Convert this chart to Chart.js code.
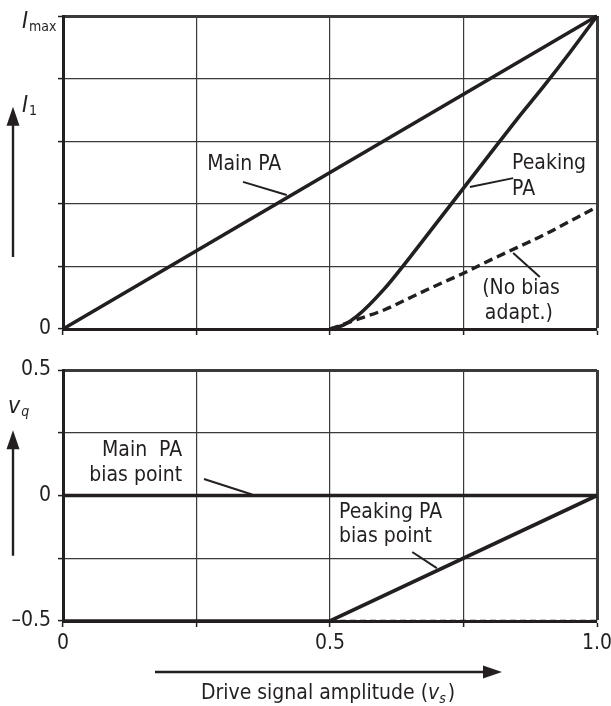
<!DOCTYPE html>
<html>
<head>
<meta charset="utf-8">
<script src="https://cdn.jsdelivr.net/npm/chart.js@4.4.1/dist/chart.umd.min.js"></script>
<style>
  html, body { margin: 0; padding: 0; background: #fff; }
  #wrap { position: relative; width: 611px; height: 706px; overflow: hidden; }
  canvas { position: absolute; left: 0; }
  #cTop { top: 0; }
  #cBot { top: 355px; }
</style>
</head>
<body>
<div id="wrap">
  <canvas id="cTop" width="611" height="345"></canvas>
  <canvas id="cBot" width="611" height="351"></canvas>
</div>
<script>
// Drive amplitude (normalised) and the fundamental currents I1 / Imax
const mainDrive = [0, 1];
const mainCurrent = [0, 1];
const peakDrive = [0.5, 0.525, 0.55, 0.6, 0.65, 0.7, 0.75, 0.8, 0.85, 0.9, 0.95, 1.0];
const peakCurrent = [0, 0.012, 0.04, 0.125, 0.23, 0.34, 0.45, 0.56, 0.67, 0.775, 0.885, 1.0];
const noBiasDrive = [0.5, 0.55, 0.6, 0.65, 0.7, 0.75, 0.8, 0.85, 0.9, 0.95, 1.0];
const noBiasCurrent = [0, 0.03, 0.06, 0.1, 0.14, 0.178, 0.22, 0.26, 0.3, 0.345, 0.39];

// Bias points v_q versus drive
const mainBiasDrive = [0, 1];
const mainBias = [0, 0];
const peakBiasDrive = [0, 0.5, 1];
const peakBias = [-0.5, -0.5, 0];
const fixedBiasDrive = [0.5, 1];
const fixedBias = [-0.5, -0.5];

// Tick labels
const xTickLabels = { 0: '0', 0.5: '0.5', 1: '1.0' };
const topTickLabels = { 0: '0' };
const botTickLabels = { 0.5: '0.5', 0: '0', '-0.5': '\u20130.5' };

const INK = '#231f20';
const GRID = '#3a3a3a';
const FONT = '"Liberation Sans Narrow", "Arial Narrow", "DejaVu Sans Condensed", "Liberation Sans", sans-serif';
const FS = 21;

const pts = (xs, ys) => xs.map((x, i) => ({ x, y: ys[i] }));

function series(xs, ys, extra) {
  return Object.assign({
    data: pts(xs, ys), borderColor: INK, borderWidth: 3.6, pointRadius: 0,
    fill: false, tension: 0, clip: 4, borderCapStyle: 'butt'
  }, extra || {});
}

function edgeWidth(edgeValue) {
  return ctx => (ctx.tick && Math.abs(ctx.tick.value - edgeValue) < 1e-9) ? 3 : 1.2;
}

function text(ctx, str, x, y, align, size, style) {
  ctx.font = (style || '') + ' ' + (size || FS) + 'px ' + FONT;
  ctx.textAlign = align || 'left';
  ctx.textBaseline = 'middle';
  ctx.fillStyle = INK;
  ctx.fillText(str, x, y);
}

function leader(ctx, x1, y1, x2, y2) {
  ctx.beginPath();
  ctx.moveTo(x1, y1); ctx.lineTo(x2, y2);
  ctx.lineWidth = 2; ctx.strokeStyle = INK; ctx.stroke();
}

function arrowUp(ctx, x, yTail, yTip) {
  ctx.beginPath(); ctx.moveTo(x, yTail); ctx.lineTo(x, yTip + 14);
  ctx.lineWidth = 2.4; ctx.strokeStyle = INK; ctx.stroke();
  ctx.beginPath(); ctx.moveTo(x, yTip); ctx.lineTo(x - 6.5, yTip + 19); ctx.lineTo(x + 6.5, yTip + 19);
  ctx.closePath(); ctx.fillStyle = INK; ctx.fill();
}

function arrowRight(ctx, xTail, xTip, y) {
  ctx.beginPath(); ctx.moveTo(xTail, y); ctx.lineTo(xTip - 14, y);
  ctx.lineWidth = 2.4; ctx.strokeStyle = INK; ctx.stroke();
  ctx.beginPath(); ctx.moveTo(xTip, y); ctx.lineTo(xTip - 19, y - 6.5); ctx.lineTo(xTip - 19, y + 6.5);
  ctx.closePath(); ctx.fillStyle = INK; ctx.fill();
}

// Symbol with italic letter and upright subscript
function symbol(ctx, main, sub, x, y, size, subSize, italicSub) {
  ctx.font = 'italic ' + size + 'px ' + FONT;
  ctx.textAlign = 'left'; ctx.textBaseline = 'alphabetic'; ctx.fillStyle = INK;
  ctx.fillText(main, x, y);
  const w = ctx.measureText(main).width;
  ctx.font = (italicSub ? 'italic ' : '') + subSize + 'px ' + FONT;
  ctx.fillText(sub, x + w + 1, y + subSize * 0.22);
}

const topAnnotations = {
  id: 'topAnnotations',
  afterDraw(chart) {
    const { ctx, scales: { x, y } } = chart;
    const P = (vx, vy) => [x.getPixelForValue(vx), y.getPixelForValue(vy)];
    ctx.save();
    // y-axis symbols and direction arrow
    symbol(ctx, 'I', 'max', 22, y.getPixelForValue(1) + 12, 23, 14, false);
    symbol(ctx, 'I', '1', 22, y.getPixelForValue(0.72) + 8, 23, 14, false);
    arrowUp(ctx, 13, y.getPixelForValue(0.23), y.getPixelForValue(0.71));

    let a = P(0.27, 0.524); text(ctx, 'Main PA', a[0], a[1]);
    a = P(0.337, 0.47); let b = P(0.419, 0.428); leader(ctx, a[0], a[1], b[0], b[1]);

    a = P(0.841, 0.53); text(ctx, 'Peaking', a[0], a[1]);
    a = P(0.841, 0.444); text(ctx, 'PA', a[0], a[1]);
    a = P(0.762, 0.454); b = P(0.843, 0.482); leader(ctx, a[0], a[1], b[0], b[1]);

    a = P(0.785, 0.128); text(ctx, '(No bias', a[0], a[1]);
    a = P(0.79, 0.048); text(ctx, 'adapt.)', a[0], a[1]);
    a = P(0.843, 0.243); b = P(0.893, 0.166); leader(ctx, a[0], a[1], b[0], b[1]);
    ctx.restore();
  }
};

const botAnnotations = {
  id: 'botAnnotations',
  afterDraw(chart) {
    const { ctx, scales: { x, y } } = chart;
    const P = (vx, vy) => [x.getPixelForValue(vx), y.getPixelForValue(vy)];
    ctx.save();
    symbol(ctx, 'v', 'q', 8, y.getPixelForValue(0.33), 23, 14, true);
    arrowUp(ctx, 13, y.getPixelForValue(-0.24), y.getPixelForValue(0.26));

    let a = P(0.223, 0.181); text(ctx, 'Main  PA', a[0], a[1], 'right');
    a = P(0.223, 0.078); text(ctx, 'bias point', a[0], a[1], 'right');
    a = P(0.264, 0.066); let b = P(0.354, 0.004); leader(ctx, a[0], a[1], b[0], b[1]);

    a = P(0.517, -0.068); text(ctx, 'Peaking PA', a[0], a[1]);
    a = P(0.517, -0.165); text(ctx, 'bias point', a[0], a[1]);
    a = P(0.654, -0.225); b = P(0.7, -0.289); leader(ctx, a[0], a[1], b[0], b[1]);

    // horizontal axis arrow and title
    const yArrow = chart.chartArea.bottom + 51;
    arrowRight(ctx, 155, 502, yArrow);
    const base = chart.chartArea.bottom + 78;
    ctx.font = FS + 'px ' + FONT;
    const t1 = 'Drive signal amplitude (';
    const w1 = ctx.measureText(t1).width;
    ctx.font = 'italic ' + FS + 'px ' + FONT;
    const wv = ctx.measureText('v').width;
    ctx.font = '14px ' + FONT;
    const ws = ctx.measureText('s').width;
    ctx.font = FS + 'px ' + FONT;
    const wp = ctx.measureText(')').width;
    let sx = 328 - (w1 + wv + ws + wp + 2) / 2;
    ctx.textAlign = 'left'; ctx.textBaseline = 'alphabetic'; ctx.fillStyle = INK;
    ctx.fillText(t1, sx, base); sx += w1;
    ctx.font = 'italic ' + FS + 'px ' + FONT; ctx.fillText('v', sx, base); sx += wv;
    ctx.font = 'italic 14px ' + FONT; ctx.fillText('s', sx, base + 4); sx += ws + 2;
    ctx.font = FS + 'px ' + FONT; ctx.fillText(')', sx, base);
    ctx.restore();
  }
};

function xScale(showLabels, height) {
  return {
    type: 'linear', min: 0, max: 1,
    ticks: {
      stepSize: 0.25, autoSkip: false, maxRotation: 0, display: showLabels, padding: 4,
      color: INK, font: { family: FONT, size: FS },
      callback: v => (xTickLabels[v] !== undefined ? xTickLabels[v] : '')
    },
    grid: { color: GRID, lineWidth: edgeWidth(1), tickLength: 6, tickColor: INK, tickWidth: 1.5 },
    border: { color: INK, width: 3 },
    afterFit: s => { s.height = height; s.paddingLeft = 0; s.paddingRight = 0; }
  };
}

function yScale(min, max, step, labels) {
  return {
    type: 'linear', min, max,
    ticks: {
      stepSize: step, autoSkip: false, padding: 7, color: INK,
      font: { family: FONT, size: FS },
      callback: v => { const k = String(Math.round(v * 100) / 100); return labels[k] !== undefined ? labels[k] : ''; }
    },
    grid: { color: GRID, lineWidth: edgeWidth(max), tickLength: 5, tickColor: INK, tickWidth: 1.5 },
    border: { color: INK, width: 3 },
    afterFit: s => { s.width = 63; s.paddingTop = 0; s.paddingBottom = 0; }
  };
}

const common = {
  responsive: false, animation: false, events: [],
  plugins: { legend: { display: false }, tooltip: { enabled: false } }
};

new Chart(document.getElementById('cTop'), {
  type: 'line',
  data: {
    datasets: [
      series(mainDrive, mainCurrent),
      series(peakDrive, peakCurrent, { cubicInterpolationMode: 'monotone' }),
      series(noBiasDrive, noBiasCurrent, { borderDash: [9, 5], borderWidth: 3.4, cubicInterpolationMode: 'monotone' })
    ]
  },
  options: Object.assign({}, common, {
    layout: { padding: { top: 16, right: 14, left: 0, bottom: 0 } },
    scales: { x: xScale(false, 16), y: yScale(0, 1, 0.2, topTickLabels) }
  }),
  plugins: [topAnnotations]
});

new Chart(document.getElementById('cBot'), {
  type: 'line',
  data: {
    datasets: [
      series(mainBiasDrive, mainBias),
      series(peakBiasDrive, peakBias),
      series(fixedBiasDrive, fixedBias, { borderDash: [6, 4], borderWidth: 2.4 })
    ]
  },
  options: Object.assign({}, common, {
    layout: { padding: { top: 15, right: 14, left: 0, bottom: 45 } },
    scales: { x: xScale(true, 40), y: yScale(-0.5, 0.5, 0.25, botTickLabels) }
  }),
  plugins: [botAnnotations]
});
</script>
</body>
</html>
